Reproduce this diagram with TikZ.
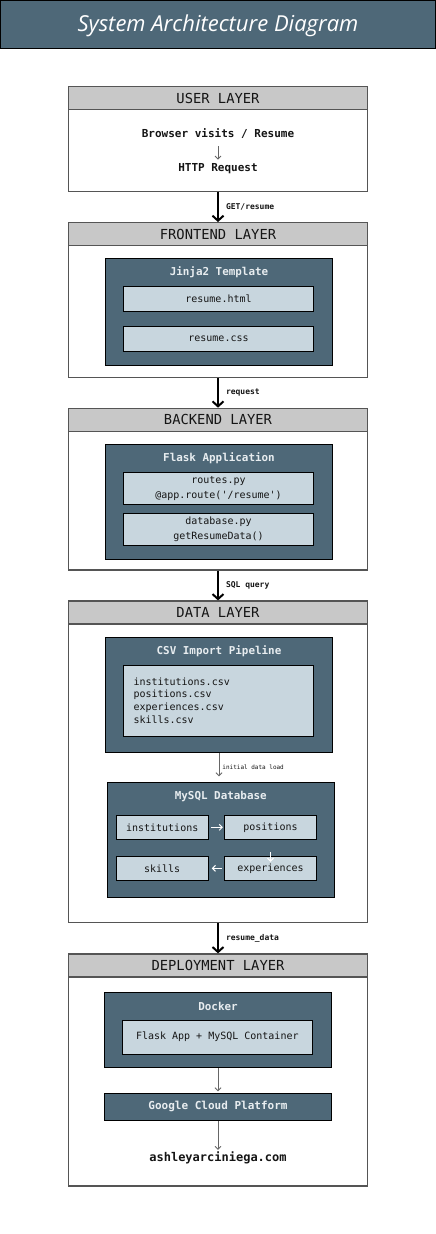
\documentclass[tikz,border=0pt]{standalone}
\usepackage{fontspec}
\setmainfont{Open Sans}
\setmonofont{DejaVu Sans Mono}
\newfontfamily\titlefont{Open Sans}
\usetikzlibrary{arrows.meta,positioning}
\definecolor{darkbox}{HTML}{4E6878}
\definecolor{lightbox}{HTML}{C8D6DE}
\definecolor{headgray}{HTML}{C8C8C8}
\definecolor{layerline}{HTML}{555555}
\definecolor{textdark}{HTML}{151515}
\definecolor{textlight}{HTML}{E8EDF0}
\tikzset{
  layerbox/.style={draw=layerline, line width=1.3pt, fill=white, minimum width=299pt, inner sep=0pt},
  headbox/.style={draw=layerline, line width=1.3pt, fill=headgray, minimum width=299pt, minimum height=23pt, inner sep=0pt, anchor=north, text=textdark, font=\ttfamily\fontsize{13.8}{16}\selectfont},
  darkbg/.style={draw=black, line width=0.9pt, fill=darkbox, inner sep=0pt},
  lightbg/.style={draw=black, line width=0.9pt, fill=lightbox, inner sep=0pt, text=textdark, font=\ttfamily\fontsize{10}{14.6}\selectfont, align=center},
  darktitle/.style={text=textlight, font=\ttfamily\bfseries\fontsize{10.9}{13}\selectfont, inner sep=0pt},
  bigarrow/.style={line width=2pt, black, -{Straight Barb[length=5pt,width=11pt,line width=2pt]}},
  smallarrow/.style={line width=0.9pt, black!60, -{Straight Barb[length=3pt,width=6pt,line width=0.9pt]}},
  whitearrow/.style={line width=1pt, white, -{Straight Barb[length=3pt,width=6pt,line width=1pt]}},
  arrowlabel/.style={anchor=west, inner sep=0pt, text=textdark, font=\ttfamily\bfseries\fontsize{8}{10}\selectfont},
  plaintext/.style={inner sep=0pt, text=textdark, font=\ttfamily\bfseries\fontsize{11}{13}\selectfont}
}
\begin{document}
\begin{tikzpicture}[x=1pt,y=-1pt]
\useasboundingbox[fill=white] (0,0) rectangle (436,1234);
% title bar
\node[draw=black, line width=1.2pt, fill=darkbox, minimum width=434.8pt, minimum height=47.5pt, inner sep=0pt] (titlebar) at (218,24.4) {};
\node[text=white, font=\titlefont\itshape\fontsize{22}{26}\selectfont] (title) at (218,25.5) {System Architecture Diagram};

% USER LAYER
\node[layerbox, minimum height=104.6pt] (user) at (218,139) {};
\node[headbox] (userhead) at (user.north) {USER LAYER};
\node[plaintext] (browser) at (218,134) {Browser visits / Resume};
\node[plaintext] (http) at (218,169) {HTTP Request};
\draw[smallarrow, shorten <=7pt, shorten >=4pt] (browser) -- (http);

% FRONTEND LAYER
\node[layerbox, minimum height=154.6pt] (front) at (218,300) {};
\node[headbox] (fronthead) at (front.north) {FRONTEND LAYER};
\node[darkbg, minimum width=227.4pt, minimum height=107pt] (jinja) at (219,311.8) {};
\node[darktitle] (jinjatitle) at (219,272.3) {Jinja2 Template};
\node[lightbg, minimum width=190pt, minimum height=25.4pt] (html) at (218.5,299) {resume.html};
\node[lightbg, minimum width=190pt, minimum height=25pt] (css) at (218.5,338.8) {resume.css};

% BACKEND LAYER
\node[layerbox, minimum height=161.7pt] (back) at (218,489.2) {};
\node[headbox] (backhead) at (back.north) {BACKEND LAYER};
\node[darkbg, minimum width=227.4pt, minimum height=115pt] (flask) at (219,501.8) {};
\node[darktitle] (flasktitle) at (219,458.3) {Flask Application};
\node[lightbg, minimum width=190pt, minimum height=32pt] (routes) at (218.5,488.3) {routes.py\\@app.route('/resume')};
\node[lightbg, minimum width=190pt, minimum height=32pt] (dbpy) at (218.5,529.3) {database.py\\getResumeData()};

% DATA LAYER
\node[layerbox, minimum height=321.3pt] (data) at (218,761.7) {};
\node[headbox] (datahead) at (data.north) {DATA LAYER};
\node[darkbg, minimum width=227.4pt, minimum height=115pt] (csv) at (219,694.8) {};
\node[darktitle] (csvtitle) at (219,650.7) {CSV Import Pipeline};
\node[lightbg, minimum width=190pt, minimum height=71pt, align=left, text width=170pt, font=\ttfamily\fontsize{10}{12.8}\selectfont] (csvfiles) at (218.5,700.5) {institutions.csv\\positions.csv\\experiences.csv\\skills.csv};
\node[darkbg, minimum width=227pt, minimum height=115pt] (mysql) at (220.8,839.8) {};
\node[darktitle] (mysqltitle) at (220.8,796.3) {MySQL Database};
\node[lightbg, minimum width=92.3pt, minimum height=24pt] (inst) at (162.2,827.3) {institutions};
\node[lightbg, minimum width=92.3pt, minimum height=24pt] (pos) at (270.5,827.3) {positions};
\node[lightbg, minimum width=92.3pt, minimum height=24pt] (skills) at (162.2,868.3) {skills};
\node[lightbg, minimum width=92.3pt, minimum height=24pt] (exp) at (270.5,868.3) {experiences};
\draw[whitearrow, shorten <=2pt, shorten >=1pt] (inst) -- (pos);
\draw[whitearrow, shorten <=12pt, shorten >=-6pt] (pos.south) -- (exp.north);
\draw[whitearrow, shorten <=2pt, shorten >=3pt] (exp) -- (skills);
\draw[smallarrow, shorten >=5.5pt] (csv.south) -- (csv.south |- mysql.north) node[midway, anchor=west, xshift=3pt, inner sep=0pt, text=textdark, font=\ttfamily\fontsize{6}{7}\selectfont] (loadlabel) {initial data load};

% DEPLOYMENT LAYER
\node[layerbox, minimum height=232pt] (deploy) at (218,1070) {};
\node[headbox] (deployhead) at (deploy.north) {DEPLOYMENT LAYER};
\node[darkbg, minimum width=227.4pt, minimum height=75pt] (docker) at (218,1029.8) {};
\node[darktitle] (dockertitle) at (218,1006) {Docker};
\node[lightbg, minimum width=190pt, minimum height=34.3pt] (container) at (217.3,1037.2) {Flask App + MySQL Container};
\node[darkbg, minimum width=227.4pt, minimum height=27pt, text=textlight, font=\ttfamily\bfseries\fontsize{11}{13}\selectfont] (gcp) at (218,1106.8) {Google Cloud Platform};
\node[plaintext, font=\ttfamily\bfseries\fontsize{12}{14}\selectfont] (site) at (218,1158.3) {ashleyarciniega.com};
\draw[smallarrow, shorten >=1.5pt] (docker.south) -- (gcp.north);
\draw[smallarrow, shorten >=2pt] (gcp.south) -- (site.north);

% layer connectors
\draw[bigarrow] (user.south) -- (front.north) node[arrowlabel, midway, xshift=7pt] (lab1) {GET/resume};
\draw[bigarrow] (front.south) -- (back.north) node[arrowlabel, midway, xshift=7pt] (lab2) {request};
\draw[bigarrow] (back.south) -- (data.north) node[arrowlabel, midway, xshift=7pt] (lab3) {SQL query};
\draw[bigarrow] (data.south) -- (deploy.north) node[arrowlabel, midway, xshift=7pt] (lab4) {resume\_data};
\end{tikzpicture}
\end{document}
